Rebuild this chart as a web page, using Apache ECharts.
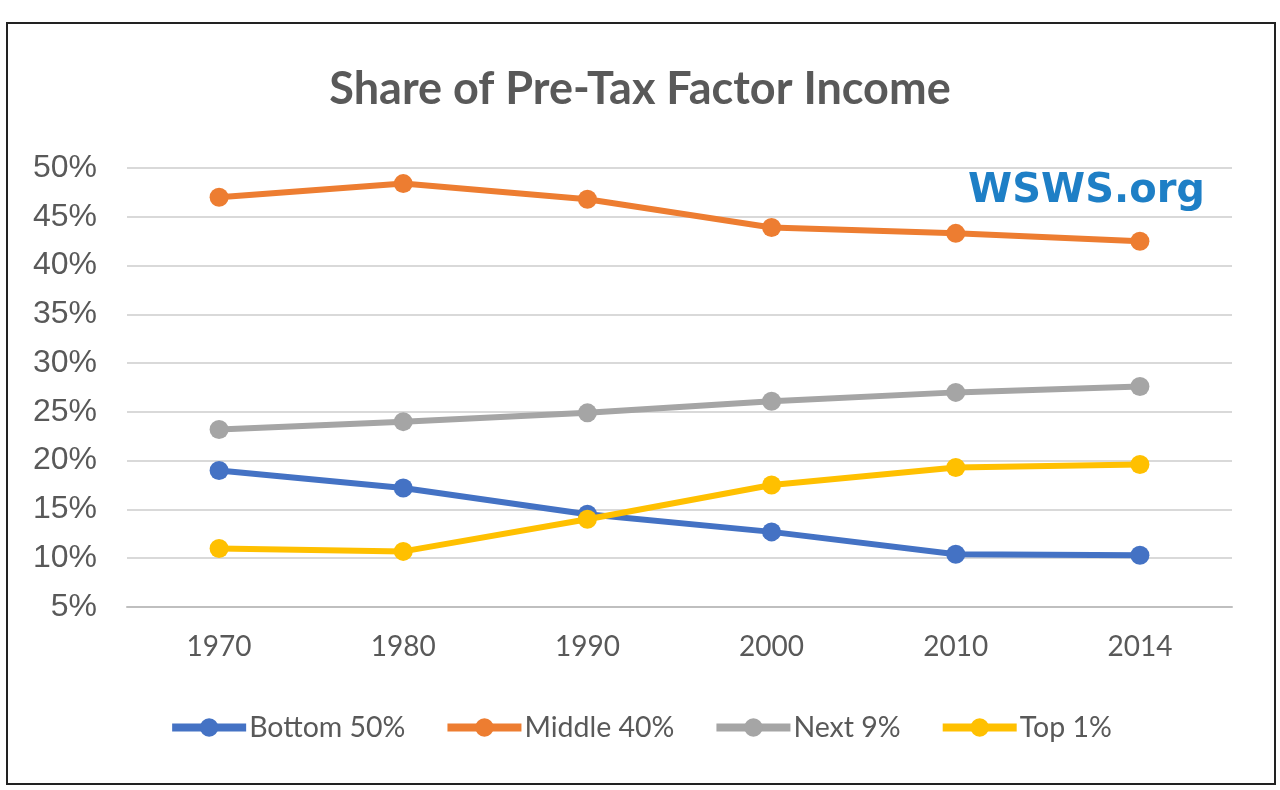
<!DOCTYPE html>
<html>
<head>
<meta charset="utf-8">
<script src="https://cdn.jsdelivr.net/npm/echarts@6/dist/echarts.min.js"></script>
<style>html,body{margin:0;padding:0;background:#fff;}#c{width:1280px;height:790px;}</style>
</head>
<body>
<div id="c"></div>
<script>
var categories = ['1970', '1980', '1990', '2000', '2010', '2014'];
var bottom50 = [19.0, 17.2, 14.5, 12.7, 10.4, 10.3];
var middle40 = [47.0, 48.4, 46.8, 43.9, 43.3, 42.5];
var next9 = [23.2, 24.0, 24.9, 26.1, 27.0, 27.6];
var top1 = [11.0, 10.7, 14.0, 17.5, 19.3, 19.6];
var seriesNames = ['Bottom 50%', 'Middle 40%', 'Next 9%', 'Top 1%'];
var colors = ['#4472C4', '#ED7D31', '#A5A5A5', '#FFC000'];
var yMin = 5, yMax = 50, yStep = 5;

var chart = echarts.init(document.getElementById('c'));
var datas = [bottom50, middle40, next9, top1];
var series = datas.map(function (d, i) {
  return {
    name: seriesNames[i], type: 'line', data: d,
    symbol: 'circle', symbolSize: 19,
    lineStyle: { width: 6, color: colors[i] },
    itemStyle: { color: colors[i] },
    emphasis: { disabled: true },
    z: i === 3 ? 5 : 3
  };
});
chart.setOption({
  animation: false,
  backgroundColor: '#fff',
  title: {
    text: 'Share of Pre-Tax Factor Income', left: 'center', top: 62,
    textStyle: { fontFamily: 'Lato', fontWeight: 'bold', fontSize: 45, color: '#595959' }
  },
  grid: { left: 127, right: 48, top: 168, bottom: 183 },
  legend: {
    bottom: 43, left: 'center', itemWidth: 74, itemHeight: 23, itemGap: 38,
    data: seriesNames,
    lineStyle: { width: 8 },
    textStyle: { fontFamily: 'Lato', fontSize: 28.5, color: '#595959', padding: [0, 0, 0, -2] }
  },
  xAxis: {
    type: 'category', data: categories, boundaryGap: true,
    axisLine: { lineStyle: { color: '#BFBFBF', width: 2 } },
    axisTick: { show: false },
    axisLabel: { fontFamily: 'Lato', fontSize: 28, color: '#595959', margin: 26 }
  },
  yAxis: {
    type: 'value', min: yMin, max: yMax, interval: yStep,
    axisLine: { show: false }, axisTick: { show: false },
    splitLine: { lineStyle: { color: '#D9D9D9', width: 2 } },
    axisLabel: { fontFamily: 'Liberation Sans', fontSize: 32, color: '#595959', margin: 30,
      formatter: function (v) { return v + '%'; } }
  },
  graphic: [
    { type: 'rect', shape: { x: 7, y: 23, width: 1268, height: 761 },
      style: { fill: 'none', stroke: '#222', lineWidth: 2 }, silent: true },
    { type: 'text', right: 75, top: 172,
      style: { text: 'WSWS.org', font: 'bold 40px "DejaVu Sans"', fill: '#1E7FC6' }, z: 10 }
  ],
  series: series
});
</script>
</body>
</html>
